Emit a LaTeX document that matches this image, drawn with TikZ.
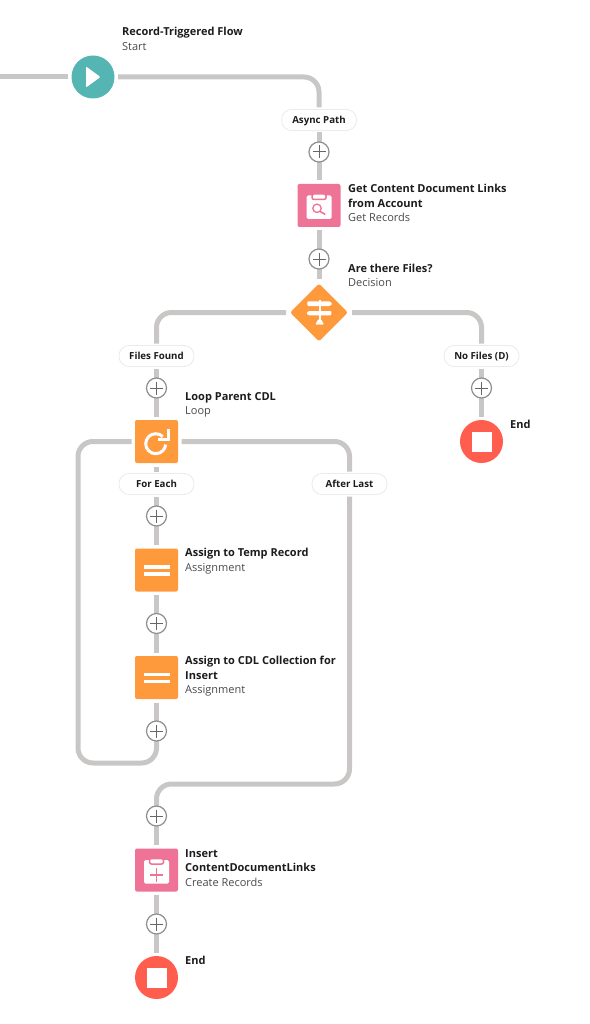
\documentclass[tikz,border=0pt]{standalone}
\usepackage{fontspec}
\setmainfont{Open Sans}
\usepackage{tikz}
\usetikzlibrary{shapes.geometric, calc, backgrounds}
\definecolor{linegray}{HTML}{C9C7C5}
\definecolor{tealstart}{HTML}{54B5B2}
\definecolor{pinkrec}{HTML}{EE7397}
\definecolor{orangelogic}{HTML}{FF9A3C}
\definecolor{redend}{HTML}{FF5D4D}
\definecolor{plusgray}{HTML}{8F8F8F}
\definecolor{pilledge}{HTML}{EBEBEB}
\definecolor{inktext}{HTML}{1C1C1C}
\definecolor{subtext}{HTML}{4A4A4A}
\newcommand{\head}[1]{\textcolor{inktext}{\textbf{#1}}}

\begin{document}
\begin{tikzpicture}[
    x=1pt, y=-1pt,
    flow/.style={draw=linegray, line width=5pt, rounded corners=15pt},
    roundel/.style={circle, fill=#1, minimum size=43pt, inner sep=0pt, outer sep=3.5pt},
    tile/.style={rectangle, fill=#1, rounded corners=2pt, minimum size=43pt, inner sep=0pt, outer sep=3.5pt},
    decision/.style={diamond, fill=orangelogic, rounded corners=2pt, minimum width=60pt, minimum height=60pt, inner sep=0pt, outer sep=3pt},
    pill/.style={rectangle, draw=pilledge, fill=white, line width=0.8pt, rounded corners=10pt, minimum width=75pt, minimum height=21pt, inner sep=0pt, outer sep=2pt, text height=7pt, text depth=0pt, text=inktext, font=\fontsize{9.7}{11}\selectfont\bfseries},
    addbtn/.style={circle, draw=plusgray, fill=white, line width=1.2pt, minimum size=20pt, inner sep=0pt, outer sep=0pt, path picture={
        \draw[black!60, line width=1pt] ($(path picture bounding box.center)+(-6.5,0)$) -- ++(13,0);
        \draw[black!60, line width=1pt] ($(path picture bounding box.center)+(0,-6.5)$) -- ++(0,13);}},
    caption/.style={anchor=north west, inner sep=0pt, align=left, text=subtext, font=\fontsize{11}{14.5}\selectfont},
    clipbody/.pic={
        \fill[white, rounded corners=1.5pt] (-12.5,-10) rectangle (12.5,13.5);
        \fill[white, draw=pinkrec, line width=1.5pt, rounded corners=2pt] (-7,-11.5) rectangle (7,-6);
    }
]
\useasboundingbox (0,0) rectangle (589,1024);

% start
\coordinate (entry) at (0,77);
\node[roundel=tealstart] (start) at (93,77) {};
\node[pill] (async) at (319,120) {Async Path};
\node[addbtn] (add1) at (319,152) {};
\node[tile=pinkrec] (getrec) at (319,205.5) {};
\node[addbtn] (add2) at (319,259) {};
\node[decision] (files) at (319,312.5) {};

% branches
\node[pill] (found) at (156.5,356) {Files Found};
\node[pill] (nofiles) at (481.5,356) {No Files (D)};
\node[addbtn] (add3) at (156.5,388) {};
\node[addbtn] (add4) at (481.5,388) {};
\node[tile=orangelogic] (loop) at (156.5,441.5) {};
\node[roundel=redend] (end1) at (481.5,441.5) {};

% loop body
\node[pill] (foreach) at (156.5,484) {For Each};
\node[pill] (afterlast) at (349.5,484) {After Last};
\node[addbtn] (add5) at (156.5,516) {};
\node[tile=orangelogic] (assign1) at (156.5,570) {};
\node[addbtn] (add6) at (156.5,623.5) {};
\node[tile=orangelogic] (assign2) at (156.5,677.5) {};
\node[addbtn] (add7) at (156.5,731) {};
\coordinate (backcorner) at (78,763);
\coordinate (afterjoin) at (349.5,784);

% after last
\node[addbtn] (add8) at (156.5,816) {};
\node[tile=pinkrec] (insert) at (156.5,870) {};
\node[addbtn] (add9) at (156.5,924) {};
\node[roundel=redend] (end2) at (156.5,977.5) {};

% connectors
\begin{scope}[on background layer]
\draw[flow] (entry) -- (start);
\draw[flow] (start) -| (async);
\draw[flow] (async) -- (add1);
\draw[flow] (add1) -- (getrec);
\draw[flow] (getrec) -- (add2);
\draw[flow] (add2) -- (files);
\draw[flow] (files) -| (found);
\draw[flow] (files) -| (nofiles);
\draw[flow] (found) -- (add3);
\draw[flow] (add3) -- (loop);
\draw[flow] (nofiles) -- (add4);
\draw[flow] (add4) -- (end1);
\draw[flow] (loop) -- (foreach);
\draw[flow] (foreach) -- (add5);
\draw[flow] (add5) -- (assign1);
\draw[flow] (assign1) -- (add6);
\draw[flow] (add6) -- (assign2);
\draw[flow] (assign2) -- (add7);
\draw[flow] (add7) |- (backcorner) |- (loop);
\draw[flow] (loop) -| (afterlast);
\draw[flow] (afterlast) -- (afterjoin) -| (add8);
\draw[flow] (add8) -- (insert);
\draw[flow] (insert) -- (add9);
\draw[flow] (add9) -- (end2);
\end{scope}

% icons
\fill[white, rounded corners=1pt] ($(start)+(-7,-10.5)$) -- ($(start)+(7.5,0)$) -- ($(start)+(-7,10.5)$) -- cycle;
\foreach \stopnode in {end1,end2} {
    \fill[white] ($(\stopnode)+(-10,-10)$) rectangle ($(\stopnode)+(10,10)$);
}
\foreach \eqnode in {assign1,assign2} {
    \fill[white] ($(\eqnode)+(-13,-5)$) rectangle ($(\eqnode)+(13,-1.3)$);
    \fill[white] ($(\eqnode)+(-13,2)$) rectangle ($(\eqnode)+(13,5.7)$);
}
\pic at (getrec) {clipbody};
\pic at (insert) {clipbody};
\draw[pinkrec, line width=1.3pt] ($(getrec)+(-2,2.8)$) circle (4.2);
\draw[pinkrec, line width=1.6pt] ($(getrec)+(1,5.8)$) -- ($(getrec)+(6.3,9)$);
\draw[pinkrec, line width=1.3pt] ($(insert)+(-6.7,5)$) -- ($(insert)+(6.7,5)$);
\draw[pinkrec, line width=1.3pt] ($(insert)+(0,-1.7)$) -- ($(insert)+(0,11.7)$);

% loop arrow
\draw[white, line width=3pt] ($(loop)+(6.27,-4.87)$) arc[start angle=-45, end angle=-355, radius=10];
\draw[white, line width=3pt] ($(loop)+(11.8,-12.2)$) -- ($(loop)+(11.8,-2.2)$) -- ($(loop)+(1.8,-2.2)$);

% signpost
\fill[white] ($(files)+(-0.3,-13)$) rectangle ($(files)+(1.7,8)$);
\fill[white, rounded corners=1pt] ($(files)+(-11.7,-11.2)$) -- ($(files)+(11,-11.2)$) -- ($(files)+(13.3,-8.8)$) -- ($(files)+(11,-6.5)$) -- ($(files)+(-11.7,-6.5)$) -- cycle;
\fill[white, rounded corners=1pt] ($(files)+(12.3,-1.5)$) -- ($(files)+(-10.4,-1.5)$) -- ($(files)+(-12.7,0.7)$) -- ($(files)+(-10.4,2.8)$) -- ($(files)+(12.3,2.8)$) -- cycle;
\fill[white, rounded corners=1pt] ($(files)+(-3.7,12.2)$) -- ($(files)+(-0.8,6.8)$) -- ($(files)+(2.2,6.8)$) -- ($(files)+(5,12.2)$) -- cycle;

% captions
\node[caption] (startcap) at (122,27) {\head{Record-Triggered Flow}\\Start};
\node[caption] (getcap) at (348,184) {\head{Get Content Document Links}\\\head{from Account}\\Get Records};
\node[caption] (filescap) at (348,263.5) {\head{Are there Files?}\\Decision};
\node[caption] (loopcap) at (185,392) {\head{Loop Parent CDL}\\Loop};
\node[caption] (end1cap) at (510,420) {\head{End}};
\node[caption] (assign1cap) at (185,548) {\head{Assign to Temp Record}\\Assignment};
\node[caption] (assign2cap) at (185,656) {\head{Assign to CDL Collection for}\\\head{Insert}\\Assignment};
\node[caption] (insertcap) at (185,849) {\head{Insert}\\\head{ContentDocumentLinks}\\Create Records};
\node[caption] (end2cap) at (185,956) {\head{End}};
\end{tikzpicture}
\end{document}
